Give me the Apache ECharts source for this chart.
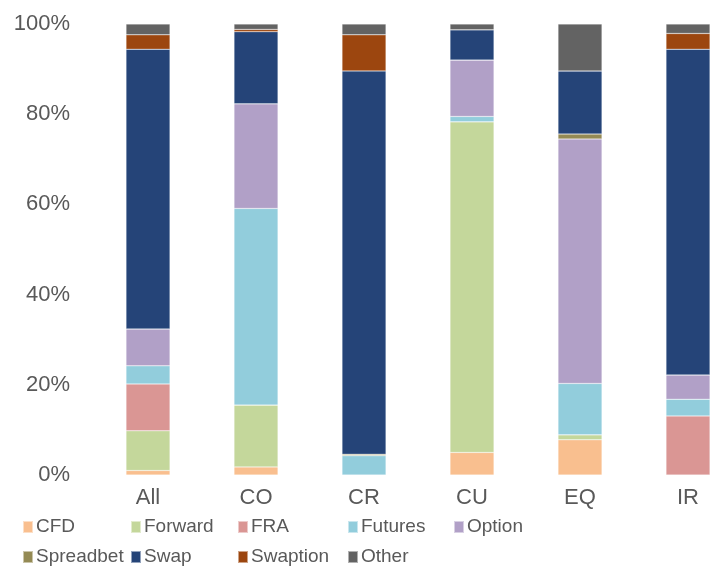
<!DOCTYPE html>
<html>
<head>
<meta charset="utf-8">
<script src="https://cdn.jsdelivr.net/npm/echarts@6/dist/echarts.min.js"></script>
<style>html,body{margin:0;padding:0;background:#fff}#c{width:711px;height:569px}</style>
</head>
<body>
<div id="c"></div>
<script>
const categories = ['All', 'CO', 'CR', 'CU', 'EQ', 'IR'];
const yTicks = [0, 20, 40, 60, 80, 100];
const CFD       = [1.0, 1.8, 0.0, 5.0, 7.8, 0.0];
const Forward   = [8.8, 13.7, 0.0, 73.3, 1.1, 0.0];
const FRA       = [10.4, 0.0, 0.0, 0.0, 0.0, 13.1];
const Futures   = [4.0, 43.6, 4.3, 1.2, 11.4, 3.7];
const Option    = [8.2, 23.2, 0.0, 12.5, 54.2, 5.4];
const Spreadbet = [0.0, 0.0, 0.3, 0.0, 1.1, 0.0];
const Swap      = [62.0, 16.0, 85.0, 6.7, 14.0, 72.2];
const Swaption  = [3.2, 0.5, 8.0, 0.0, 0.0, 3.5];
const Other     = [2.4, 1.2, 2.4, 1.3, 10.4, 2.1];

const seriesNames = ['CFD','Forward','FRA','Futures','Option','Spreadbet','Swap','Swaption','Other'];
const seriesData = [CFD, Forward, FRA, Futures, Option, Spreadbet, Swap, Swaption, Other];
const colors = ['#F9BF8F','#C4D79B','#DA9694','#92CDDC','#B1A0C7','#948A54','#254478','#9C460F','#636363'];

const legendCols = [['CFD','Spreadbet'],['Forward','Swap'],['FRA','Swaption'],['Futures','Other'],['Option']];
const legendLeft = [22, 130, 237, 347, 453];

const chart = echarts.init(document.getElementById('c'), null, {renderer:'canvas'});
const font = 'Liberation Sans, Arial, sans-serif';
chart.setOption({
  animation: false,
  color: colors,
  grid: {left: 94, right: -31, top: 24, bottom: 94, containLabel: false, outerBoundsMode: 'none'},
  legend: legendCols.map((d, i) => ({
    data: d,
    orient: 'vertical',
    left: legendLeft[i],
    top: 517,
    padding: 0,
    itemGap: 10,
    itemWidth: 10,
    itemHeight: 12,
    icon: 'rect',
    textStyle: {fontFamily: font, fontSize: 19, color: '#595959', lineHeight: 20, padding: [0, 0, 0, -2]}
  })),
  xAxis: {
    type: 'category',
    data: categories,
    axisLine: {show: false},
    axisTick: {show: false},
    axisLabel: {fontFamily: font, fontSize: 22, color: '#595959', margin: 12}
  },
  yAxis: {
    type: 'value',
    min: yTicks[0],
    max: yTicks[yTicks.length - 1],
    interval: 20,
    axisLine: {show: false},
    axisTick: {show: false},
    splitLine: {show: false},
    axisLabel: {fontFamily: font, fontSize: 22, color: '#595959', margin: 24, formatter: '{value}%'}
  },
  series: seriesNames.map((n, i) => ({
    name: n,
    type: 'bar',
    stack: 'total',
    barWidth: 44,
    data: seriesData[i],
    itemStyle: {color: colors[i], borderColor: 'rgba(255,255,255,0.5)', borderWidth: 0.5}
  }))
});
</script>
</body>
</html>
